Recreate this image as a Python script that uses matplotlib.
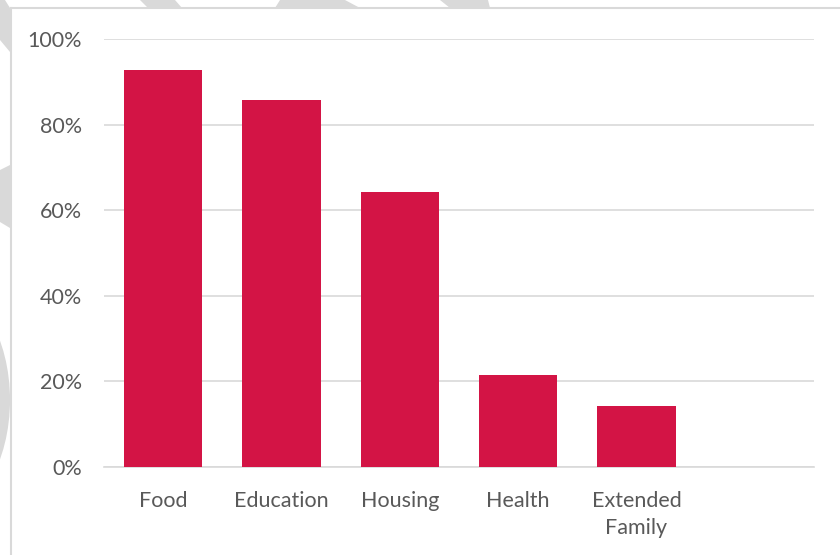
import matplotlib
matplotlib.use("Agg")
import matplotlib.pyplot as plt
from matplotlib.patches import Polygon, Ellipse
from matplotlib.lines import Line2D

categories = ["Food", "Education", "Housing", "Health", "Extended\nFamily", ""]
shares = [13 / 14, 12 / 14, 9 / 14, 3 / 14, 2 / 14, 0]
yticks = [0, 0.2, 0.4, 0.6, 0.8, 1.0]
ytick_labels = ["0%", "20%", "40%", "60%", "80%", "100%"]

bar_color = "#D31445"
grid_color = "#D9D9D9"
text_color = "#595959"

plt.rcParams["font.family"] = ["Lato", "DejaVu Sans"]

W, H = 840, 555
fig = plt.figure(figsize=(W / 100, H / 100), dpi=100)
fig.patch.set_facecolor("white")

# pixel coords -> figure fraction
def px(x, y):
    return (x / W, 1 - y / H)

# gray watermark pieces peeking in at the cropped edges
shapes = [
    [(0, 0), (5, 0), (10, 8), (0, 8)],
    [(140, 0), (175, 0), (182, 8), (148, 8)],
    [(280, 0), (345, 0), (360, 8), (275, 8)],
    [(440, 0), (488, 0), (490, 8), (450, 8)],
    [(0, 8), (10, 8), (10, 52), (0, 40)],
    [(0, 170), (10, 165), (10, 228), (0, 222)],
]
for s in shapes:
    fig.add_artist(Polygon([px(*p) for p in s], closed=True, transform=fig.transFigure,
                           facecolor=grid_color, edgecolor="none", zorder=0.05))
fig.add_artist(Ellipse(px(-60, 400), 140 / W, 230 / H, transform=fig.transFigure,
                       facecolor=grid_color, edgecolor="none", zorder=0.05))

# white chart box with its border
fig.add_artist(Polygon([px(11, 8), px(840, 8), px(840, 555), px(11, 555)], closed=True,
                       transform=fig.transFigure, facecolor="white", edgecolor="none", zorder=0.1))
fig.add_artist(Line2D([11 / W, 11 / W], [0, 1 - 8 / H], transform=fig.transFigure,
                      color=grid_color, lw=1.5, zorder=0.2))
fig.add_artist(Line2D([11 / W, 1], [1 - 8 / H, 1 - 8 / H], transform=fig.transFigure,
                      color=grid_color, lw=1.5, zorder=0.2))

ax = fig.add_axes([104 / W, 1 - 467 / H, 710 / W, 428 / H])
ax.set_zorder(1)
ax.set_facecolor("none")

x = range(len(categories))
ax.bar(x, shares, width=0.66, color=bar_color, zorder=3)

ax.set_xlim(-0.5, len(categories) - 0.5)
ax.set_ylim(0, 1)
ax.set_yticks(yticks)
ax.set_yticklabels(ytick_labels)
ax.set_xticks(list(x))
ax.set_xticklabels(categories, linespacing=1.45)
ax.tick_params(axis="both", length=0, colors=text_color, labelsize=15.5)
ax.tick_params(axis="y", pad=16)
ax.tick_params(axis="x", pad=17)
ax.yaxis.grid(True, color=grid_color, lw=1.2, zorder=0)
for side in ["left", "right", "top"]:
    ax.spines[side].set_visible(False)
ax.spines["bottom"].set_color(grid_color)
ax.spines["bottom"].set_linewidth(1.2)

fig.savefig("out.png", dpi=100)
